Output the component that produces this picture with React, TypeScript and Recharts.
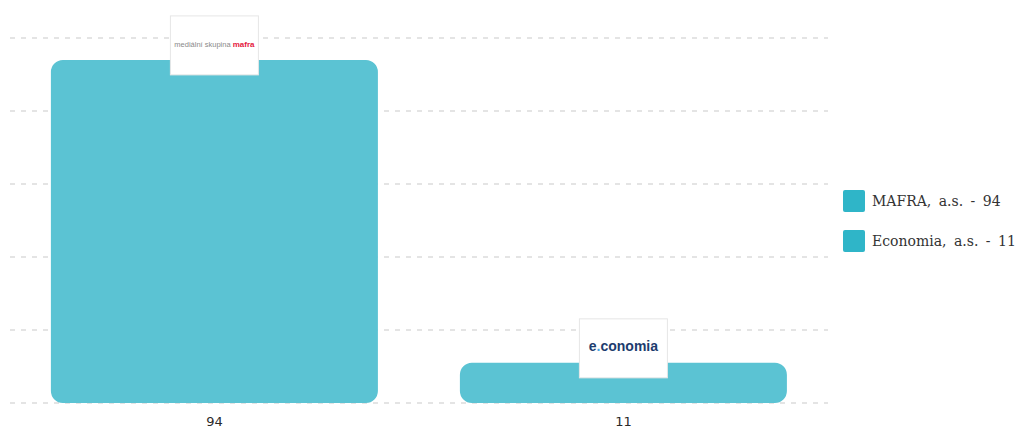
import React from "react";
import { Bar, BarChart, CartesianGrid, LabelList, XAxis, YAxis } from "recharts";

const companies = ["MAFRA, a.s.", "Economia, a.s."];
const values = [94, 11];
const tickLabels = ["94", "11"];
const logos = ["mafra", "economia"];
const yTicks = [0, 20, 40, 60, 80, 100];

const BAR = "#5bc3d3";
const SWATCH = "#2fb5c8";

const data = companies.map((name, i) => ({
  name,
  value: values[i],
  tick: tickLabels[i],
  logo: logos[i],
}));

function LogoLabel(props: any) {
  const { x, y, width, index } = props;
  const cx = x + width / 2;
  const w = 88;
  const h = 59;
  const top = y - 44;
  const logo = logos[index];
  return (
    <g>
      <rect x={cx - w / 2} y={top} width={w} height={h} fill="#fff" stroke="#e6e6e6" strokeWidth={1} />
      {logo === "mafra" ? (
        <text x={cx} y={top + 31} textAnchor="middle" fontFamily="Liberation Sans, Arial, sans-serif">
          <tspan fontSize={7.5} fill="#8a8a8a">mediální skupina </tspan>
          <tspan fontSize={8} fontWeight="bold" fill="#e4173e">mafra</tspan>
        </text>
      ) : (
        <text
          x={cx}
          y={top + 32}
          textAnchor="middle"
          fontFamily="Liberation Sans, Arial, sans-serif"
          fontSize={14}
          fontWeight="bold"
          fill="#1d3c6e"
        >
          <tspan>e</tspan>
          <tspan fill="#4aa3df">.</tspan>
          <tspan>conomia</tspan>
        </text>
      )}
    </g>
  );
}

export default function App() {
  return (
    <div style={{ position: "relative", width: 1008, height: 422 }}>
      <BarChart
        width={1008}
        height={422}
        data={data}
        margin={{ top: 30, right: 188, bottom: 0, left: 2 }}
        barCategoryGap="10%"
      >
        <CartesianGrid vertical={false} stroke="#c9c9c9" strokeDasharray="5 6" />
        <XAxis
          dataKey="tick"
          axisLine={false}
          tickLine={false}
          height={27}
          tickMargin={8}
          tick={{ fontSize: 13, fill: "#2a2a2a", fontFamily: "DejaVu Sans, sans-serif" }}
        />
        <YAxis hide domain={[0, 100]} ticks={yTicks} />
        <Bar dataKey="value" fill={BAR} radius={12} isAnimationActive={false}>
          <LabelList dataKey="logo" content={<LogoLabel />} />
        </Bar>
      </BarChart>
      <div
        style={{
          position: "absolute",
          left: 835,
          top: 182,
          fontFamily: "DejaVu Serif, serif",
          fontSize: 14,
          color: "#333",
          wordSpacing: 3,
        }}
      >
        {companies.map((name, i) => (
          <div key={name} style={{ display: "flex", alignItems: "center", height: 22, marginBottom: 18 }}>
            <span style={{ width: 22, height: 22, background: SWATCH, borderRadius: 2, marginRight: 7, display: "inline-block" }} />
            <span>{`${name} - ${values[i]}`}</span>
          </div>
        ))}
      </div>
    </div>
  );
}
